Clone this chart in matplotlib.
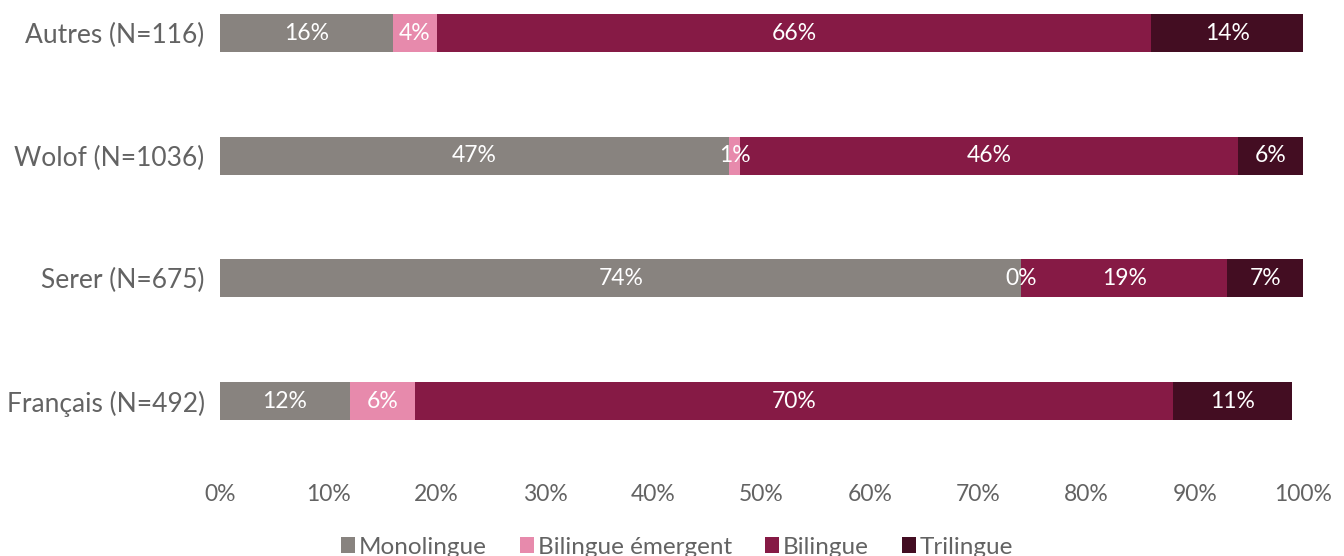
import matplotlib.pyplot as plt
import numpy as np

plt.rcParams['font.family'] = ['Lato', 'DejaVu Sans']

# languages, bottom to top
langues = ['Français (N=492)', 'Serer (N=675)', 'Wolof (N=1036)', 'Autres (N=116)']
niveaux = ['Monolingue', 'Bilingue émergent', 'Bilingue', 'Trilingue']
monolingue = [12, 74, 47, 16]
bilingue_emergent = [6, 0, 1, 4]
bilingue = [70, 19, 46, 66]
trilingue = [11, 7, 6, 14]
couleurs = ['#88837F', '#E78AAC', '#861A45', '#430D22']
ticks = np.arange(0, 101, 10)

series = [monolingue, bilingue_emergent, bilingue, trilingue]
gris = '#636363'

fig = plt.figure(figsize=(13.44, 5.56), dpi=100)
ax = fig.add_axes([220 / 1344, (556 - 460) / 556, (1303 - 220) / 1344, 460 / 556])

y = np.arange(len(langues))
left = np.zeros(len(langues))
for vals, nom, col in zip(series, niveaux, couleurs):
    vals = np.array(vals, dtype=float)
    bars = ax.barh(y, vals, left=left, height=0.31, color=col, label=nom,
                   edgecolor='none')
    for b, v in zip(bars, vals):
        cx = b.get_x() + b.get_width() / 2
        ax.text(cx, b.get_y() + b.get_height() / 2, f'{v:.0f}%',
                ha='center', va='center', color='white', fontsize=16.5)
    left += vals

ax.set_xlim(0, 100)
ax.set_ylim(-0.48, 3.27)
ax.set_xticks(ticks)
ax.set_xticklabels([f'{t}%' for t in ticks])
ax.set_yticks(y)
ax.set_yticklabels(langues)
ax.tick_params(axis='x', length=0, labelsize=16.5, labelcolor=gris, pad=17)
ax.tick_params(axis='y', length=0, labelsize=19, labelcolor=gris, pad=11)
for s in ax.spines.values():
    s.set_visible(False)

fig.legend(loc='center', bbox_to_anchor=(677 / 1344, 1 - 547 / 556), ncol=4,
           frameon=False, fontsize=17.5, labelcolor=gris,
           handlelength=0.6, handleheight=0.6, handletextpad=0.15,
           columnspacing=1.35)

fig.savefig('out.png', dpi=100)
